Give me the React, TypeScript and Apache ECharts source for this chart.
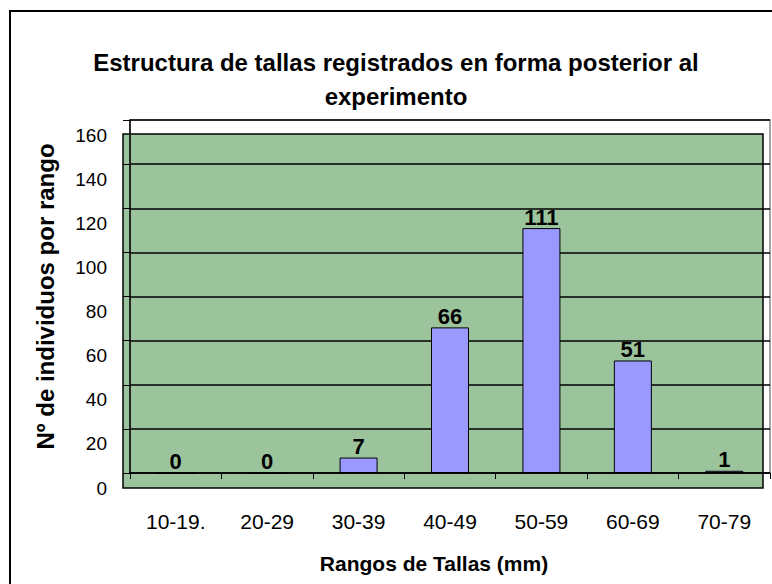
import React, { useEffect, useRef } from "react";
import * as echarts from "echarts";

const categories = ["10-19.", "20-29", "30-39", "40-49", "50-59", "60-69", "70-79"];
const counts = [0, 0, 7, 66, 111, 51, 1];
const yMin = 0;
const yMax = 160;
const yStep = 20;

const titleText = "Estructura de tallas registrados en forma posterior al\nexperimento";
const xName = "Rangos de Tallas (mm)";
const yName = "Nº de individuos por rango";

const FONT = "Liberation Sans, Arial, Helvetica, sans-serif";

export default function App() {
  const ref = useRef<HTMLDivElement>(null);
  useEffect(() => {
    document.body.style.margin = "0";
    const chart = echarts.init(ref.current!, null, { renderer: "svg" });
    chart.setOption({
      animation: false,
      backgroundColor: "#ffffff",
      textStyle: { fontFamily: FONT },
      title: {
        text: titleText,
        left: 391,
        top: 40,
        textAlign: "center",
        textStyle: { fontFamily: FONT, fontSize: 24, fontWeight: "bold", color: "#000", lineHeight: 34 },
      },
      graphic: [
        {
          type: "rect",
          z: -5,
          silent: true,
          shape: { x: 10, y: 11, width: 820, height: 620 },
          style: { fill: "#ffffff", stroke: "#000", lineWidth: 2 },
        },
        {
          type: "rect",
          z: -4,
          silent: true,
          shape: { x: 123, y: 134, width: 640, height: 354 },
          style: { fill: "#9CC49C", stroke: "#000", lineWidth: 1.5 },
        },
      ],
      grid: {
        left: 130,
        top: 120,
        width: 640,
        height: 353,
        show: true,
        backgroundColor: "transparent",
        borderColor: "#888",
        borderWidth: 1.5,
        containLabel: false,
      },
      xAxis: {
        type: "category",
        data: categories,
        name: xName,
        nameLocation: "middle",
        nameGap: 80,
        nameTextStyle: { fontFamily: FONT, fontSize: 21, fontWeight: "bold", color: "#000", padding: [0, 32, 0, 0] },
        axisLine: { show: true, lineStyle: { color: "#000", width: 1.5 } },
        axisTick: { show: true, inside: false, length: 6, alignWithLabel: false, lineStyle: { color: "#000", width: 1 } },
        axisLabel: { fontFamily: FONT, fontSize: 21, color: "#000", margin: 38 },
        splitLine: { show: false },
      },
      yAxis: {
        type: "value",
        min: yMin,
        max: yMax,
        interval: yStep,
        name: yName,
        nameLocation: "middle",
        nameGap: 73,
        nameRotate: 90,
        nameTextStyle: { fontFamily: FONT, fontSize: 24, fontWeight: "bold", color: "#000" },
        axisLine: { show: true, lineStyle: { color: "#000", width: 1.5 } },
        axisTick: { show: true, inside: false, length: 7, lineStyle: { color: "#000", width: 1 } },
        axisLabel: {
          fontFamily: FONT,
          fontSize: 19,
          color: "#000",
          margin: 23,
          verticalAlign: "top",
          lineHeight: 30,
        },
        splitLine: { show: true, lineStyle: { color: "#000", width: 1.5 } },
      },
      series: [
        {
          type: "bar",
          data: counts,
          barWidth: 38,
          itemStyle: { color: "#9999FF", borderColor: "#000", borderWidth: 1 },
          label: {
            show: true,
            position: "top",
            distance: 0,
            fontFamily: FONT,
            fontSize: 22,
            fontWeight: "bold",
            color: "#000",
          },
        },
      ],
    });
    return () => chart.dispose();
  }, []);
  return <div ref={ref} style={{ position: "fixed", left: 0, top: 0, width: 772, height: 584 }} />;
}
